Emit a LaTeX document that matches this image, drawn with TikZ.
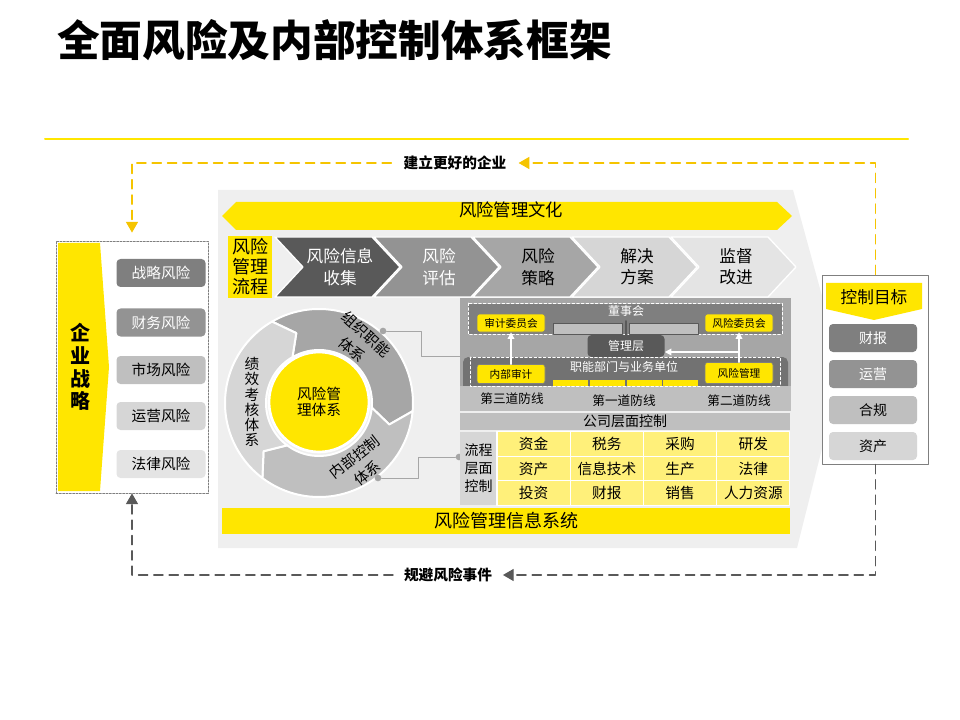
\documentclass[tikz,border=0pt]{standalone}
\usepackage{fontspec}
\setmainfont{Noto Sans CJK SC}
\usepackage{xcolor}
\usepackage{tikz}
\usetikzlibrary{arrows.meta,calc,positioning}
\definecolor{ey}{HTML}{FFE600}
\definecolor{eylt}{HTML}{FFF07A}
\definecolor{eydash}{HTML}{F5C400}
\definecolor{bgg}{HTML}{EFEFEF}
\definecolor{g1}{HTML}{E4E4E4}
\definecolor{g2}{HTML}{D6D6D6}
\definecolor{g3}{HTML}{BFBFBF}
\definecolor{g4}{HTML}{A6A6A6}
\definecolor{g5}{HTML}{939393}
\definecolor{g6}{HTML}{7F7F7F}
\definecolor{g7}{HTML}{595959}
\newcommand\fsz[2]{\fontsize{#1}{#2}\selectfont}
\tikzset{
  pill/.style={rounded corners=3pt, minimum width=66.75pt, minimum height=21pt, inner sep=0pt, font=\fsz{11}{13}},
  opill/.style={rounded corners=3pt, minimum width=66pt, minimum height=21pt, inner sep=0pt, font=\fsz{10.5}{12}},
  ytag/.style={fill=ey, draw=g6, line width=0.4pt, rounded corners=2pt, minimum width=51pt, minimum height=13.5pt, inner sep=0pt, font=\fsz{8}{9}},
  cell/.style={fill=eylt, draw=white, line width=0.8pt, minimum width=54.9pt, minimum height=18.4pt, inner sep=0pt, font=\fsz{11}{12}},
  conn/.style={draw=g4, line width=0.7pt},
  dotg/.style={circle, fill=g4, inner sep=0pt, minimum size=5pt},
  warrow/.style={draw=white, line width=1pt, -{Triangle[length=5pt, width=5pt]}},
  ydash/.style={draw=eydash, line width=0.9pt, dash pattern=on 7pt off 4.5pt, -{Triangle[length=8pt, width=9pt]}},
  gdash/.style={draw=g7, line width=0.9pt, dash pattern=on 7pt off 4.5pt, -{Triangle[length=8pt, width=9pt]}},
  every picture/.style={line cap=round, line join=round}
}
\begin{document}
\begin{tikzpicture}[x=0.75pt, y=-0.75pt]
  \useasboundingbox (0,0) rectangle (960,720);
  \node[anchor=west, inner sep=0pt, font=\bfseries\fsz{32}{36}] (title) at (57,40) {全面风险及内部控制体系框架};
  \draw[ey, line width=1.5pt] (45,139) -- (908,139);

  \fill[bgg] (218,190) -- (793,190) -- (842,369) -- (797,548) -- (218,548) -- cycle;
  \fill[ey] (222,216) -- (236,202) -- (777,202) -- (792,216) -- (777,230) -- (236,230) -- cycle;
  \node[font=\fsz{13}{15}] (culture) at (511,210) {风险管理文化};

  \node[fill=ey, minimum width=33pt, minimum height=46.5pt, inner sep=0pt, align=center, font=\fsz{13.5}{15}] (flow) at (250,267) {风险\\管理\\流程};
  \foreach \tip/\cc/\tc/\txt [count=\k] in {400/g7/white/{风险信息\\收集}, 499/g5/white/{风险\\评估}, 598/g4/black/{风险\\策略}, 697/g2/black/{解决\\方案}, 796/g1/black/{监督\\改进}} {
    \filldraw[fill=\cc, draw=white, line width=1pt] (\tip-125,237) -- (\tip-28,237) -- (\tip,267) -- (\tip-28,297) -- (\tip-125,297) -- (\tip-97,267) -- cycle;
    \node[text=\tc, align=center, font=\fsz{12.5}{16}] (proc\k) at (\tip-60,267) {\txt};
  }

  \begin{scope}[shift={(319,403)}, yscale=-1]
    \foreach \s/\e/\cc in {120/-5/g4, -5/-127/g3, -127/-240/g2}
      \filldraw[fill=\cc, draw=white, line width=1.5pt] (\s:94) arc[start angle=\s, end angle=\e, radius=94] -- ({\e-12}:73.5) -- (\e:53) arc[start angle=\e, end angle=\s, radius=53] -- ({\s-12}:73.5) -- cycle;
  \end{scope}
  \node[circle, fill=ey, draw=white, line width=2pt, minimum size=75pt, align=center, font=\fsz{11}{11.5}] (core) at (319,402) {风险管\\理体系};
  \node[rotate=-42, align=center, font=\fsz{11}{15.5}] (orgsys) at (359,342) {组织职能\\体系};
  \node[rotate=38, align=center, font=\fsz{11}{15.5}] (ctlsys) at (361,465) {内部控制\\体系};
  \node[align=center, font=\fsz{11}{11.4}] (perf) at (252,402) {绩\\效\\考\\核\\体\\系};

  \node[dotg] (orgdot) at (383,331) {};
  \node[dotg] (ctldot) at (378,478) {};
  \node[dotg] (tabdot) at (459,457) {};
  \coordinate (govin) at (460,356);
  \draw[conn] (orgdot) -- ++(38,0) |- (govin);
  \draw[conn] (ctldot) -- ++(40,0) |- (tabdot);

  \fill[g4] (460,298) rectangle (791,386);
  \fill[g6] (468,304) rectangle (782,334);
  \draw[white, line width=0.6pt, dash pattern=on 2pt off 1.5pt] (468,303) rectangle (782,334);
  \node[text=white, font=\fsz{9}{10}] (board) at (626,311) {董事会};
  \node[fill=g3, draw=g7, line width=0.4pt, minimum width=51.75pt, minimum height=8.25pt, inner sep=0pt] (bx1) at (587.5,328.5) {};
  \node[fill=g3, draw=g7, line width=0.4pt, minimum width=51.75pt, minimum height=8.25pt, inner sep=0pt] (bx2) at (664,328.5) {};
  \node[fill=g7, rounded corners=3pt, minimum width=57.75pt, minimum height=16.5pt, inner sep=0pt, text=white, font=\fsz{9}{10}] (mgmt) at (626,346) {管理层};
  \draw[g7, line width=2pt] (board.south) -- (mgmt.north);
  \fill[g6!90!black, rounded corners=4pt] (463,357) rectangle (788,392);
  \foreach \xa in {553,590,627,663}
    \fill[ey] (\xa,380) rectangle ++(35,6);
  \fill[g3] (460,386) rectangle (791,411);
  \draw[white, line width=0.6pt, dash pattern=on 2pt off 1.5pt] (470,357) rectangle (780,386);
  \node[text=white, font=\fsz{9}{10}] (func) at (624,367) {职能部门与业务单位};
  \node[ytag] (audc) at (511,323) {审计委员会};
  \node[ytag] (riskc) at (739,323) {风险委员会};
  \node[ytag, minimum height=14.25pt] (iaud) at (511,374) {内部审计};
  \node[ytag, minimum height=15.75pt] (rmgt) at (739,373) {风险管理};
  \draw[warrow] (iaud) -- (audc);
  \draw[warrow] (rmgt) -- (riskc);
  \coordinate (rmj) at (739,352);
  \draw[warrow] (rmj) -- (rmj -| mgmt.east);
  \node[font=\fsz{9.5}{10}] (line3) at (512,399) {第三道防线};
  \node[font=\fsz{9.5}{10}] (line1) at (624,401) {第一道防线};
  \node[font=\fsz{9.5}{10}] (line2) at (739,401) {第二道防线};

  \node[fill=g3, minimum width=247.5pt, minimum height=12.75pt, inner sep=0pt, font=\fsz{10.5}{11}] (corp) at (625,421.5) {公司层面控制};
  \node[fill=g2, minimum width=27.75pt, minimum height=54.75pt, inner sep=0pt, align=center, font=\fsz{10.5}{13.5}] (proc) at (478.5,468.5) {流程\\层面\\控制};
  \foreach \t [count=\k from 0] in {资金,税务,采购,研发,资产,信息技术,生产,法律,投资,财报,销售,人力资源} {
    \pgfmathtruncatemacro\cx{mod(\k,4)}
    \pgfmathtruncatemacro\ry{\k/4}
    \node[cell] (c\k) at ({533.6+73.25*\cx},{444.2+24.5*\ry}) {\t};
  }
  \node[fill=ey, minimum width=426pt, minimum height=19.5pt, inner sep=0pt, font=\fsz{13.5}{15}] (mis) at (506,521) {风险管理信息系统};

  \node[draw=g6, line width=0.6pt, dash pattern=on 1.5pt off 1pt, minimum width=114pt, minimum height=189pt, inner sep=0pt] (strat) at (132,367) {};
  \fill[ey] (58,243) -- (100,243) -- (109,367) -- (100,491) -- (58,491) -- cycle;
  \node[align=center, font=\bfseries\fsz{15}{17}] (goal) at (80,367) {企\\业\\战\\略};
  \node[pill, fill=g6, text=white] (r1) at (161,273) {战略风险};
  \node[pill, fill=g5, text=white] (r2) at (161,322.5) {财务风险};
  \node[pill, fill=g3] (r3) at (161,370) {市场风险};
  \node[pill, fill=g2] (r4) at (161,416) {运营风险};
  \node[pill, fill=g1] (r5) at (161,464) {法律风险};

  \node[draw=g6, fill=white, line width=0.6pt, minimum width=80pt, minimum height=141.75pt, inner sep=0pt] (ctrl) at (875.5,369.5) {};
  \fill[ey] (826,283) -- (922,283) -- (922,309) -- (874,320) -- (826,309) -- cycle;
  \node[font=\fsz{12.5}{14}] (objt) at (874,297) {控制目标};
  \node[opill, fill=g6, text=white] (o1) at (873,338) {财报};
  \node[opill, fill=g5, text=white] (o2) at (873,374) {运营};
  \node[opill, fill=g3] (o3) at (873,410) {合规};
  \node[opill, fill=g2] (o4) at (873,446) {资产};

  \node[inner sep=9pt, font=\bfseries\fsz{11}{12}] (better) at (455,163) {建立更好的企业};
  \node[inner sep=8pt, font=\bfseries\fsz{11}{12}] (avoid) at (448,575) {规避风险事件};
  \draw[ydash] (ctrl.north) |- (better.east);
  \draw[ydash, shorten >=6pt] (better.west) -| (strat.north);
  \draw[gdash] (ctrl.south) |- (avoid.east);
  \draw[gdash] (avoid.west) -| (strat.south);
\end{tikzpicture}
\end{document}
